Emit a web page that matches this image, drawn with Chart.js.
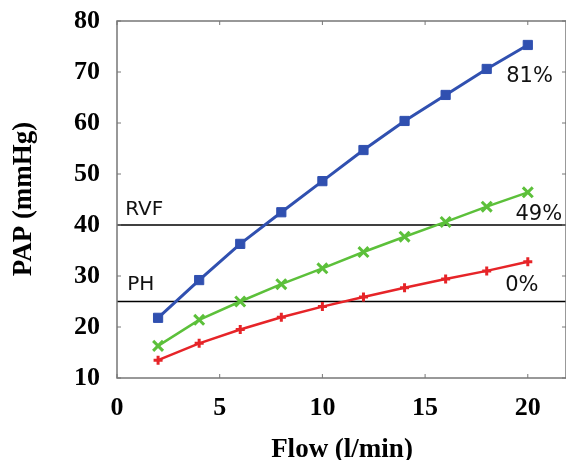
<!DOCTYPE html>
<html lang="en">
<head>
<meta charset="UTF-8">
<script src="https://cdn.jsdelivr.net/npm/chart.js"></script>
<title>PAP vs Flow</title>
<style>
  body { margin: 0; background: #fff; }
  .box { width: 566px; height: 460px; }
</style>
</head>
<body>
<div class="box">
  <canvas id="myChartCanvas" width="566" height="460"></canvas>
</div>

<script>
  // valores
  const flow = [2, 4, 6, 8, 10, 12, 14, 16, 18, 20];
  const pap0 = [13.5, 16.8, 19.5, 21.9, 24.0, 25.9, 27.7, 29.4, 31.0, 32.8];
  const pap49 = [16.3, 21.4, 25.0, 28.4, 31.5, 34.7, 37.7, 40.6, 43.6, 46.4];
  const pap81 = [21.8, 29.2, 36.3, 42.5, 48.6, 54.7, 60.4, 65.5, 70.6, 75.3];
  const seriesNames = ['0%', '49%', '81%'];
  const refValues = [40, 25];
  const refNames = ['RVF', 'PH'];
  const xTicks = [0, 5, 10, 15, 20];
  const yTicks = [10, 20, 30, 40, 50, 60, 70, 80];

  function pontos(ys) {
    return flow.map(function (x, i) { return { x: x, y: ys[i] }; });
  }

  // posicoes dos textos (em unidades dos eixos)
  const refLabelPos = [{ x: 0.4, y: 43.0 }, { x: 0.5, y: 28.2 }];
  const seriesLabelPos = [{ x: 18.9, y: 28.1 }, { x: 19.4, y: 42.1 }, { x: 18.95, y: 69.1 }];

  const enfeites = {
    id: 'enfeites',
    beforeDatasetsDraw(chart) {
      const ctx = chart.ctx;
      const a = chart.chartArea;
      const xs = chart.scales.x;
      const ys = chart.scales.y;
      ctx.save();

      // linhas de referencia
      ctx.strokeStyle = '#000';
      ctx.lineWidth = 1.5;
      refValues.forEach(function (v) {
        const py = ys.getPixelForValue(v);
        ctx.beginPath();
        ctx.moveTo(a.left, py);
        ctx.lineTo(a.right, py);
        ctx.stroke();
      });

      // caixa e marcas para dentro
      ctx.strokeStyle = '#777';
      ctx.lineWidth = 1.5;
      ctx.strokeRect(a.left, a.top, a.right - a.left, a.bottom - a.top);
      ctx.lineWidth = 1;
      const tl = 4;
      xTicks.forEach(function (v) {
        const px = xs.getPixelForValue(v);
        ctx.beginPath();
        ctx.moveTo(px, a.bottom); ctx.lineTo(px, a.bottom - tl);
        ctx.moveTo(px, a.top); ctx.lineTo(px, a.top + tl);
        ctx.stroke();
      });
      yTicks.forEach(function (v) {
        const py = ys.getPixelForValue(v);
        ctx.beginPath();
        ctx.moveTo(a.left, py); ctx.lineTo(a.left + tl, py);
        ctx.moveTo(a.right, py); ctx.lineTo(a.right - tl, py);
        ctx.stroke();
      });

      // textos
      ctx.fillStyle = '#111';
      ctx.textAlign = 'left';
      ctx.textBaseline = 'middle';
      ctx.font = '20px "DejaVu Sans", sans-serif';
      refNames.forEach(function (t, i) {
        ctx.fillText(t, xs.getPixelForValue(refLabelPos[i].x), ys.getPixelForValue(refLabelPos[i].y));
      });
      ctx.font = '21px "DejaVu Sans", sans-serif';
      seriesNames.forEach(function (t, i) {
        ctx.fillText(t, xs.getPixelForValue(seriesLabelPos[i].x), ys.getPixelForValue(seriesLabelPos[i].y));
      });
      ctx.restore();
    },
    afterDraw(chart) {
      const ctx = chart.ctx;
      ctx.save();
      ctx.fillStyle = '#000';
      ctx.font = 'bold 27px "Liberation Serif", "Times New Roman", serif';
      ctx.textAlign = 'center';
      ctx.textBaseline = 'middle';
      ctx.fillText('Flow (l/min)', 342, 450);
      ctx.translate(24, 199);
      ctx.rotate(-Math.PI / 2);
      ctx.fillText('PAP (mmHg)', 0, 0);
      ctx.restore();
    }
  };

  const dados = {
    datasets: [
      {
        label: seriesNames[0],
        data: pontos(pap0),
        borderColor: '#e62428',
        backgroundColor: '#e62428',
        borderWidth: 2.5,
        pointStyle: 'cross',
        pointRadius: 4.5,
        pointBorderWidth: 3,
        tension: 0
      },
      {
        label: seriesNames[1],
        data: pontos(pap49),
        borderColor: '#5cc03a',
        backgroundColor: '#5cc03a',
        borderWidth: 2.5,
        pointStyle: 'crossRot',
        pointRadius: 7,
        pointBorderWidth: 3,
        tension: 0
      },
      {
        label: seriesNames[2],
        data: pontos(pap81),
        borderColor: '#3050b0',
        backgroundColor: '#3050b0',
        borderWidth: 3,
        pointStyle: 'rect',
        pointRadius: 6.5,
        pointBorderWidth: 1,
        tension: 0
      }
    ]
  };

  const config = {
    type: 'line',
    data: dados,
    options: {
      responsive: false,
      animation: false,
      events: [],
      layout: { autoPadding: false, padding: { top: 21, right: 0, left: 0, bottom: 0 } },
      plugins: { legend: { display: false }, tooltip: { enabled: false } },
      scales: {
        x: {
          type: 'linear',
          min: 0,
          max: 21.86,
          grid: { display: false, drawTicks: false },
          border: { display: false },
          ticks: {
            stepSize: 5,
            includeBounds: false,
            padding: 15,
            color: '#000',
            font: { family: '"Liberation Serif", "Times New Roman", serif', size: 26, weight: 'bold' }
          },
          afterFit(scale) {
            scale.height = 82;
            scale.paddingLeft = 0;
            scale.paddingRight = 0;
          }
        },
        y: {
          min: 10,
          max: 80,
          grid: { display: false, drawTicks: false },
          border: { display: false },
          ticks: {
            stepSize: 10,
            padding: 17,
            color: '#000',
            font: { family: '"Liberation Serif", "Times New Roman", serif', size: 26, weight: 'bold' }
          },
          afterFit(scale) {
            scale.width = 117;
            scale.paddingTop = 0;
            scale.paddingBottom = 0;
          }
        }
      }
    },
    plugins: [enfeites]
  };

  let myChart = new Chart(document.getElementById('myChartCanvas'), config);
</script>
</body>
</html>
